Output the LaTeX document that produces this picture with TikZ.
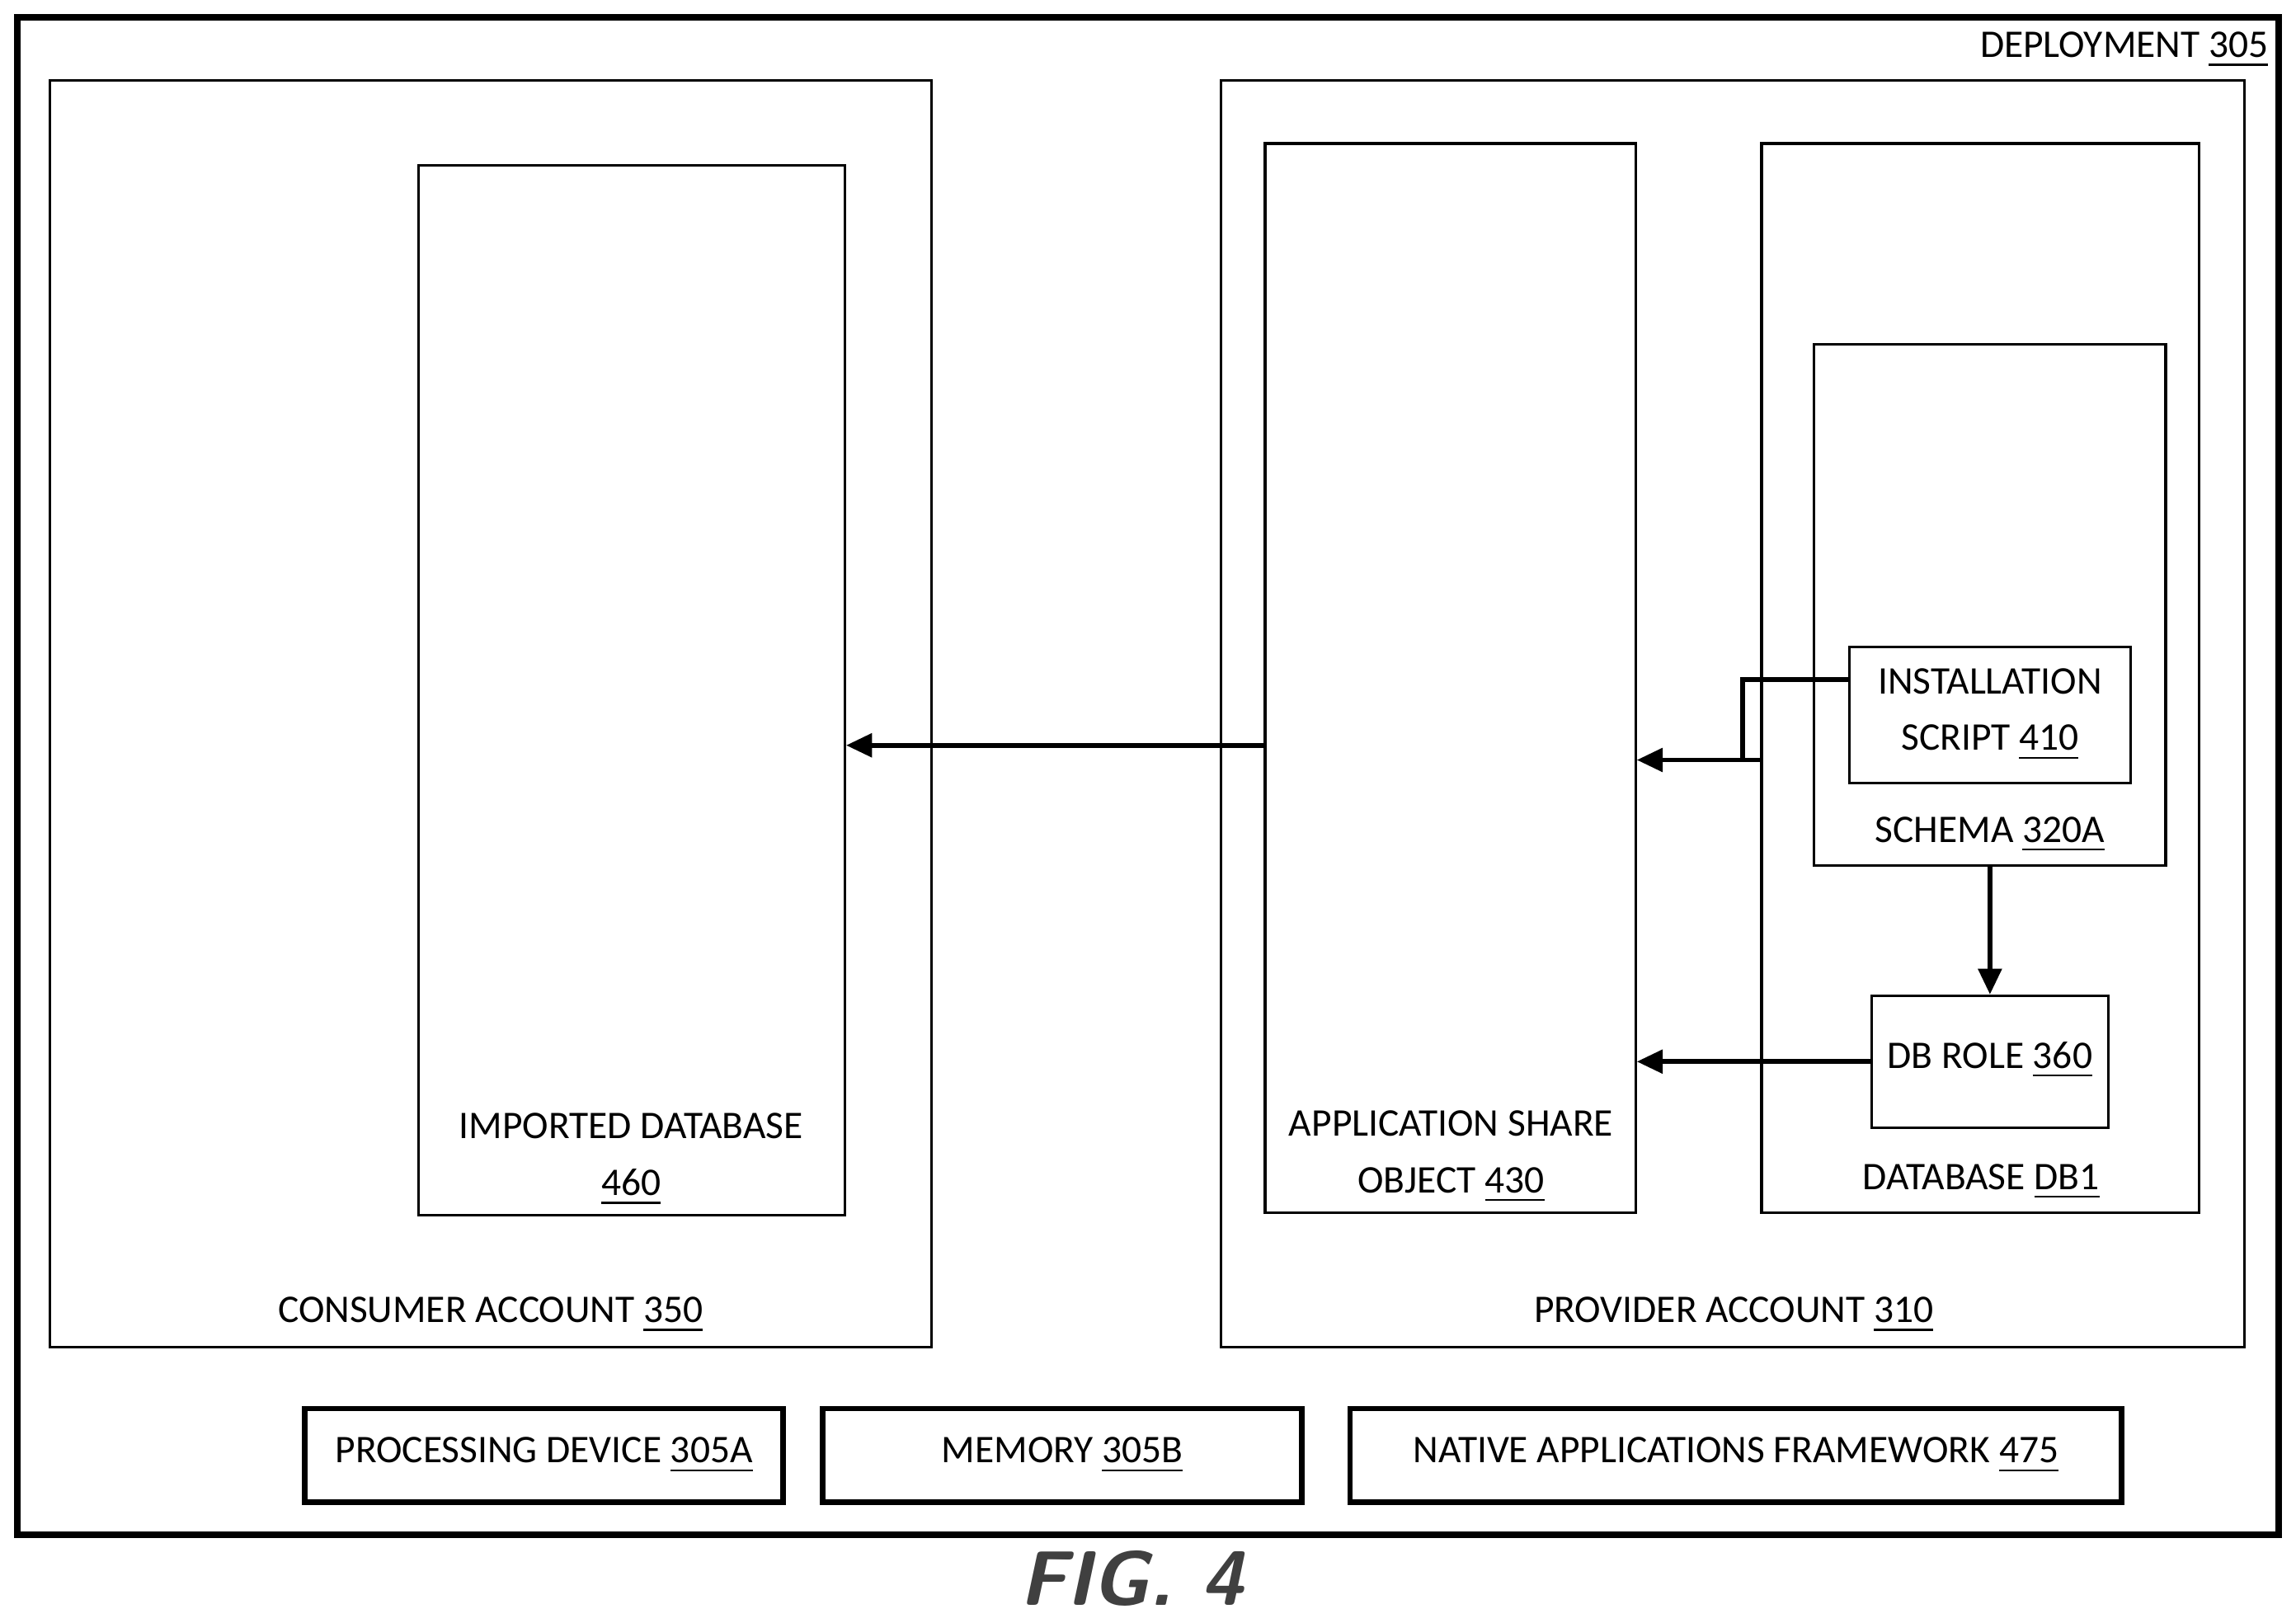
\documentclass[tikz,border=0pt]{standalone}
\usepackage{fontspec}
\setmainfont{Carlito}
\usetikzlibrary{fit,arrows.meta}
\newcommand{\refnum}[1]{\underline{#1}}

\begin{document}
\begin{tikzpicture}[x=0.01cm,y=-0.01cm,line width=0.5pt,
    box/.style={draw, inner sep=0pt},
    lbl/.style={font=\fontsize{7.6}{9}\selectfont, align=center, inner sep=0pt},
    arr/.style={-{Triangle[length=5pt,width=4.5pt]}, line width=0.9pt}]
    \useasboundingbox (0,0) rectangle (1568,1108);

    % outer deployment box
    \node[box, line width=1.3pt, fit={(12,12) (1556,1048)}] (deploy) {};
    \node[lbl, anchor=east] (deploylbl) at (1550,34) {DEPLOYMENT \refnum{305}};

    % consumer side
    \node[box, fit={(34,55) (636,920)}] (consumer) {};
    \node[lbl] (consumerlbl) at (335,898) {CONSUMER ACCOUNT \refnum{350}};
    \node[box, fit={(286,113) (577,830)}] (imported) {};
    \node[lbl] (importedlbl) at (431,792) {IMPORTED DATABASE\\[2pt]\refnum{460}};

    % provider side
    \node[box, fit={(834,55) (1533,920)}] (provider) {};
    \node[lbl] (providerlbl) at (1184,898) {PROVIDER ACCOUNT \refnum{310}};
    \node[box, fit={(864,98) (1117,828)}] (share) {};
    \node[lbl] (sharelbl) at (991,790) {APPLICATION SHARE\\[2pt]OBJECT \refnum{430}};
    \node[box, fit={(1203,98) (1502,828)}] (db) {};
    \node[lbl] (dblbl) at (1353,807) {DATABASE \refnum{DB1}};
    \node[box, fit={(1239,235) (1479,591)}] (schema) {};
    \node[lbl] (schemalbl) at (1359,570) {SCHEMA \refnum{320A}};
    \node[box, fit={(1263,442) (1455,535)}] (script) {};
    \node[lbl] (scriptlbl) at (1359,488) {INSTALLATION\\[2pt]SCRIPT \refnum{410}};
    \node[box, fit={(1278,680) (1440,770)}] (role) {};
    \node[lbl] (rolelbl) at (1359,724) {DB ROLE \refnum{360}};

    % bottom row
    \node[box, line width=1.1pt, fit={(208,962) (535,1026)}] (proc) {};
    \node[lbl] at (proc.center) {PROCESSING DEVICE \refnum{305A}};
    \node[box, line width=1.1pt, fit={(562,962) (889,1026)}] (mem) {};
    \node[lbl] at (mem.center) {MEMORY \refnum{305B}};
    \node[box, line width=1.1pt, fit={(922,962) (1449,1026)}] (naf) {};
    \node[lbl] at (naf.center) {NATIVE APPLICATIONS FRAMEWORK \refnum{475}};

    \node[font=\fontsize{15}{17}\selectfont\bfseries\itshape\sffamily, text=black!75] (fig) at (773,1078) {FIG. 4};

    % connectors
    \coordinate (bend) at (1190,464);
    \draw[arr] (share.west |- 0,509) -- (imported.east |- 0,509);
    \draw[line width=0.9pt] (script.west |- bend) -- (bend) -- (bend |- 0,519);
    \draw[arr] (db.west |- 0,519) -- (share.east |- 0,519);
    \draw[arr] (schema.south -| role.north) -- (role.north);
    \draw[arr] (role.west) -- (share.east |- role.west);
\end{tikzpicture}
\end{document}
